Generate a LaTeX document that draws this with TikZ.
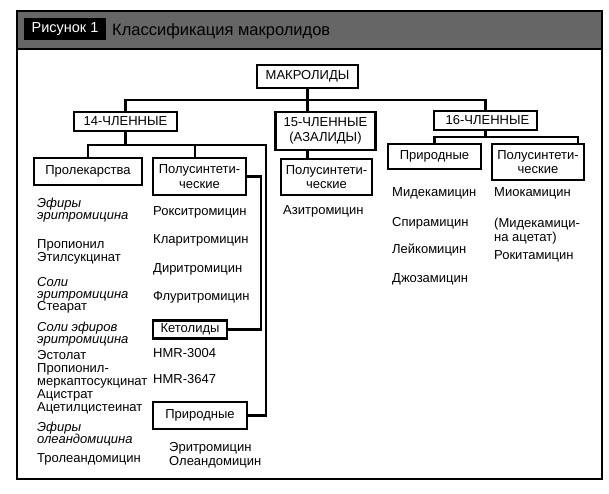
\documentclass[tikz,border=0pt]{standalone}
\usepackage{fontspec}
\setmainfont{Liberation Sans}
\newcommand\mysz{\fontsize{13}{12.5}\selectfont}
\newcommand\myboxsz{\fontsize{13}{14.5}\selectfont}
\definecolor{headgray}{HTML}{666666}
\tikzset{
  box/.style={draw, line width=2.6pt, inner sep=0pt, align=center, font=\myboxsz},
  conn/.style={line width=2.2pt},
  tx/.style={anchor=base west, inner sep=0pt, font=\mysz},
  itx/.style={anchor=base west, inner sep=0pt, font=\mysz\itshape},
}
\begin{document}
\begin{tikzpicture}[x=1pt,y=-1pt]
\useasboundingbox (0,0) rectangle (609,494);
% frame and header
\fill[white] (17,11) rectangle (602,479);
\fill[headgray] (17,11) rectangle (602,49);
\draw[line width=1.5pt] (17,49) -- (602,49);
\draw[line width=2.8pt] (17,11) rectangle (602,479);
\node[fill=black, text=white, minimum width=82pt, minimum height=22pt, inner sep=0pt,
      font=\fontsize{14.5}{14}\selectfont] (fig) at (65,29.5) {Рисунок 1};
\node[anchor=base west, inner sep=0pt, font=\fontsize{16.5}{16}\selectfont] (title) at (112,35.5) {Классификация макролидов};

% boxes
\node[box, minimum width=101pt, minimum height=23pt] (mak) at (307.5,76.5) {МАКРОЛИДЫ};
\node[box, minimum width=103pt, minimum height=19pt] (c14) at (125.5,121.5) {14-ЧЛЕННЫЕ};
\node[box, minimum width=100pt, minimum height=38pt] (c15) at (325.5,131) {15-ЧЛЕННЫЕ\\(АЗАЛИДЫ)};
\node[box, minimum width=103pt, minimum height=19pt] (c16) at (485.5,120.5) {\hspace*{4pt}16-ЧЛЕННЫЕ};
\node[box, minimum width=108pt, minimum height=27pt] (pro) at (88,171.5) {Пролекарства};
\node[box, minimum width=93pt, minimum height=37pt] (ps14) at (199.5,176.5) {Полусинтети-\\ческие};
\node[box, minimum width=74pt, minimum height=18pt] (ket) at (190,329.5) {Кетолиды};
\node[box, minimum width=94pt, minimum height=27pt] (nat14) at (200,415.5) {Природные};
\node[box, minimum width=91pt, minimum height=36pt] (ps15) at (326.5,177) {Полусинтети-\\ческие};
\node[box, minimum width=93pt, minimum height=25pt] (nat16) at (434.5,156.5) {Природные};
\node[box, minimum width=92pt, minimum height=36pt] (ps16) at (538,162) {Полусинтети-\\ческие};

% junction coordinates
\coordinate (bar) at (125.5,100);
\coordinate (r14) at (266,145);
\coordinate (p14) at (195,145);
\coordinate (r16) at (578,137);

% connectors
\draw[conn] (mak.south) -- (mak.south |- c15.north);
\draw[conn] (c14.north) -- (bar) -| (c16.north);
\draw[conn] (c14.south) -- (c14.south |- r14);
\draw[conn] (pro.north) |- (r14) |- (nat14.east);
\draw[conn] (p14) -- (p14 |- ps14.north);
\draw[conn] (ps14.east) -- ++(14,0) |- (ket.east);
\draw[conn] (mak.south |- c15.south) -- (mak.south |- ps15.north);
\draw[conn] (c16.south) -- (c16.south |- r16);
\draw[conn] (nat16.north) |- (r16) -- (r16 |- ps16.north);

% column 1
\foreach \n/\y/\s/\t in {
  a1/207.5/itx/Эфиры, a2/219.5/itx/эритромицина,
  a3/248/tx/Пропионил, a4/261/tx/Этилсукцинат,
  a5/286/itx/Соли, a6/298/itx/эритромицина, a7/310/tx/Стеарат,
  a8/331/itx/Соли эфиров, a9/343/itx/эритромицина,
  a10/359/tx/Эстолат, a11/372/tx/Пропионил-, a12/385/tx/меркаптосукцинат,
  a13/398/tx/Ацистрат, a14/411/tx/Ацетилцистеинат,
  a15/431/itx/Эфиры, a16/443/itx/олеандомицина,
  a17/462/tx/Тролеандомицин}
  \node[\s] (\n) at (37,\y) {\t};

% column 2
\foreach \n/\y/\t in {
  b1/215.5/Рокситромицин, b2/243.5/Кларитромицин,
  b3/272/Диритромицин, b4/300.5/Флуритромицин,
  b5/357.5/HMR-3004, b6/383.5/HMR-3647}
  \node[tx] (\n) at (153,\y) {\t};
\node[tx] (b7) at (169,451.5) {Эритромицин};
\node[tx] (b8) at (169,465) {Олеандомицин};

% 15
\node[tx] (az) at (283,214.5) {Азитромицин};

% 16 natural
\foreach \n/\y/\t in {
  d1/196.5/Мидекамицин, d2/226.5/Спирамицин,
  d3/253.5/Лейкомицин, d4/282.5/Джозамицин}
  \node[tx] (\n) at (392,\y) {\t};

% 16 semisynthetic
\node[tx] (e1) at (494,196.5) {Миокамицин};
\node[tx] (e2) at (494,227.5) {(Мидекамици-};
\node[tx] (e3) at (494,241) {на ацетат)};
\node[tx] (e4) at (494,259.5) {Рокитамицин};
\end{tikzpicture}
\end{document}
